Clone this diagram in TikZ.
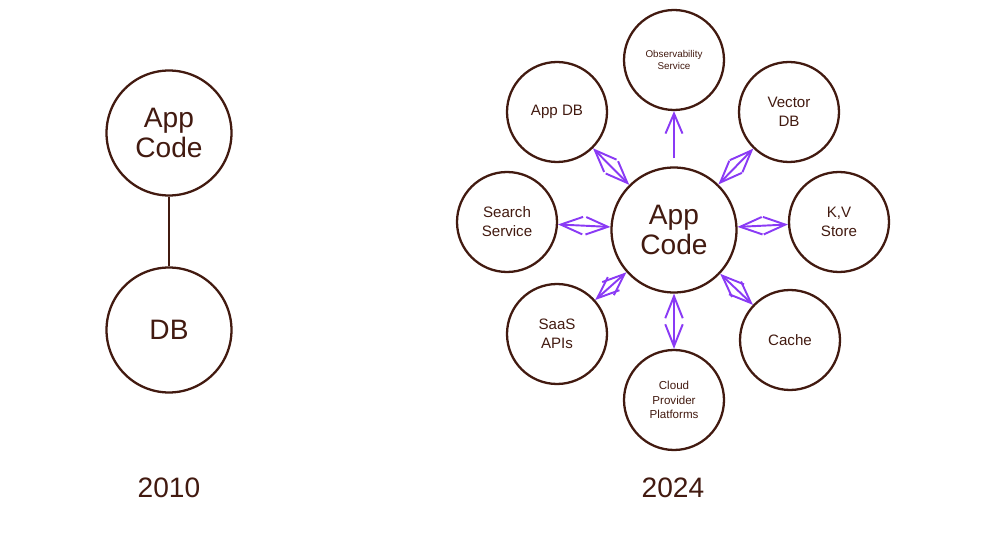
\documentclass[tikz,border=0pt]{standalone}
\usepackage{fontspec}
\setmainfont{Liberation Sans}
\usetikzlibrary{arrows.meta,positioning,calc}
\definecolor{inkbrown}{RGB}{66,26,16}
\definecolor{linkpurple}{RGB}{138,58,245}
\tikzset{
  bigcirc/.style={circle, draw=inkbrown, line width=1.3pt, minimum size=2.5cm,
                  inner sep=0pt, align=center, text=inkbrown,
                  font=\fontsize{16}{17}\selectfont},
  svccirc/.style={circle, draw=inkbrown, line width=1.3pt, minimum size=2cm,
                  inner sep=0pt, align=center, text=inkbrown,
                  font=\fontsize{8.6}{10.8}\selectfont},
  tinytxt/.style={font=\fontsize{5.6}{6.8}\selectfont},
  smalltxt/.style={font=\fontsize{6.6}{8.2}\selectfont},
  yearlbl/.style={text=inkbrown, font=\fontsize{16}{18}\selectfont},
  plainlink/.style={inkbrown, line width=1.1pt},
  biarr/.style={{Straight Barb[length=4.4mm,width=3.5mm]}-{Straight Barb[length=4.4mm,width=3.5mm]},
                linkpurple, line width=1.1pt},
  onearr/.style={-{Straight Barb[length=4mm,width=3.4mm]}, linkpurple, line width=1.1pt},
}

\begin{document}
\begin{tikzpicture}[x=0.02cm, y=-0.02cm]
  \useasboundingbox (0,0) rectangle (1004,540);
  % 2010
  \node[bigcirc] (oldapp) at (169,133) {App\\Code};
  \node[bigcirc] (olddb) at (169,330) {DB};
  \draw[plainlink] (oldapp) -- (olddb);
  \node[yearlbl] (y2010) at (169,488) {2010};
  % 2024
  \node[bigcirc] (app) at (674,230) {App\\Code};
  \node[svccirc, tinytxt] (obs) at (674,60) {Observability\\Service};
  \node[svccirc] (appdb) at (557,112) {App DB};
  \node[svccirc] (vec) at (789,112) {Vector\\DB};
  \node[svccirc] (search) at (507,222) {Search\\Service};
  \node[svccirc] (kv) at (839,222) {K,V\\Store};
  \node[svccirc] (saas) at (557,334) {SaaS\\APIs};
  \node[svccirc] (cache) at (790,340) {Cache};
  \node[svccirc, smalltxt] (cloud) at (674,400) {Cloud\\Provider\\Platforms};
  \node[yearlbl] (y2024) at (673,488) {2024};

  \draw[onearr, shorten <=0.16cm] (app) -- (obs);
  \foreach \svc in {appdb,vec,search,kv,saas,cache,cloud}
    \draw[biarr] (\svc) -- (app);
\end{tikzpicture}
\end{document}
